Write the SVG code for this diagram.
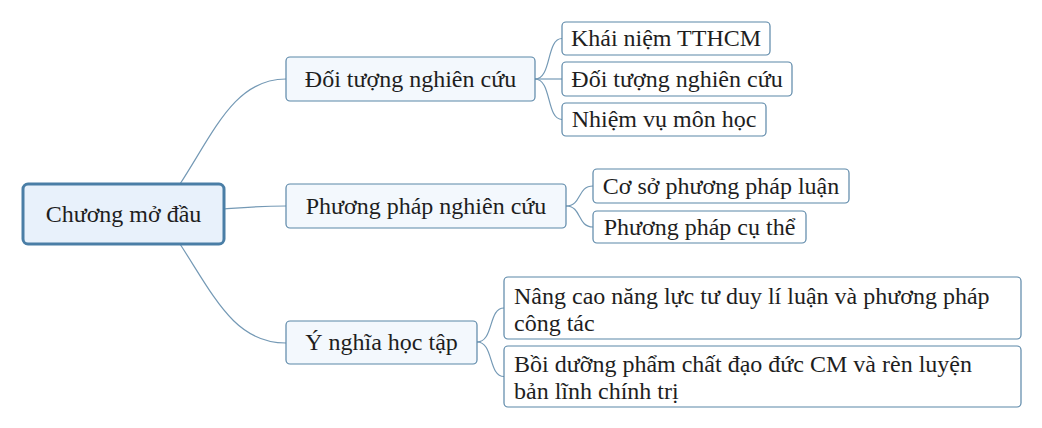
<svg xmlns="http://www.w3.org/2000/svg" width="1042" height="428" viewBox="0 0 1042 428">
<style>
.c{text-anchor:middle}
.root{fill:#e8f1fb;stroke:#4a7ea6;stroke-width:3}
.l1{fill:#f3f8fd;stroke:#5b87a8;stroke-width:1.2}
.l2{fill:#ffffff;stroke:#5b87a8;stroke-width:1.2}
.con path{fill:none;stroke:#7499b5;stroke-width:1.2}
</style>
<rect width="1042" height="428" fill="#ffffff"/>
<g class="con">
<path d="M180,184 C215,130 235,79 286,79"/>
<path d="M224,209 C250,207 260,206 286,206"/>
<path d="M180,244 C215,298 235,343 286,343"/>
<path d="M535,79 C552,79 546,38.5 562,38.5"/>
<path d="M535,79 L562,79"/>
<path d="M535,79 C552,79 546,119.5 562,119.5"/>
<path d="M566,206 C582,206 577,186 593,186"/>
<path d="M566,206 C582,206 577,227 593,227"/>
<path d="M477,342 C494,342 488,308 504,308"/>
<path d="M477,342 C494,342 488,376.5 504,376.5"/>
</g>
<g font-family="Liberation Serif" font-size="24" fill="#1e1e1e">
<g id="root"><rect class="root" x="23" y="184" width="201" height="60" rx="5"/><text class="c" x="123.5" y="222">Chương mở đầu</text></g>
<g id="n1"><rect class="l1" x="286" y="57" width="249" height="44" rx="4"/><text class="c" x="410.5" y="87">Đối tượng nghiên cứu</text></g>
<g id="n2"><rect class="l1" x="286" y="184" width="280" height="44" rx="4"/><text class="c" x="426" y="214">Phương pháp nghiên cứu</text></g>
<g id="n3"><rect class="l1" x="286" y="321" width="191" height="43" rx="4"/><text class="c" x="381.5" y="350">Ý nghĩa học tập</text></g>
<g id="n1a"><rect class="l2" x="562" y="22" width="208" height="33" rx="4"/><text class="c" x="666" y="46">Khái niệm TTHCM</text></g>
<g id="n1b"><rect class="l2" x="562" y="62" width="230" height="34" rx="4"/><text class="c" x="677" y="87">Đối tượng nghiên cứu</text></g>
<g id="n1c"><rect class="l2" x="562" y="103" width="204" height="33" rx="4"/><text class="c" x="664" y="127">Nhiệm vụ môn học</text></g>
<g id="n2a"><rect class="l2" x="593" y="169" width="256" height="34" rx="4"/><text class="c" x="721" y="194">Cơ sở phương pháp luận</text></g>
<g id="n2b"><rect class="l2" x="593" y="211" width="213" height="32" rx="4"/><text class="c" x="699.5" y="235">Phương pháp cụ thể</text></g>
<g id="n3a"><rect class="l2" x="504" y="277" width="517" height="62" rx="4"/><text x="514" y="304">Nâng cao năng lực tư duy lí luận và phương pháp</text><text x="514" y="331">công tác</text></g>
<g id="n3b"><rect class="l2" x="504" y="346" width="517" height="61" rx="4"/><text x="514" y="372">Bồi dưỡng phẩm chất đạo đức CM và rèn luyện</text><text x="514" y="399">bản lĩnh chính trị</text></g>
</g>
</svg>
